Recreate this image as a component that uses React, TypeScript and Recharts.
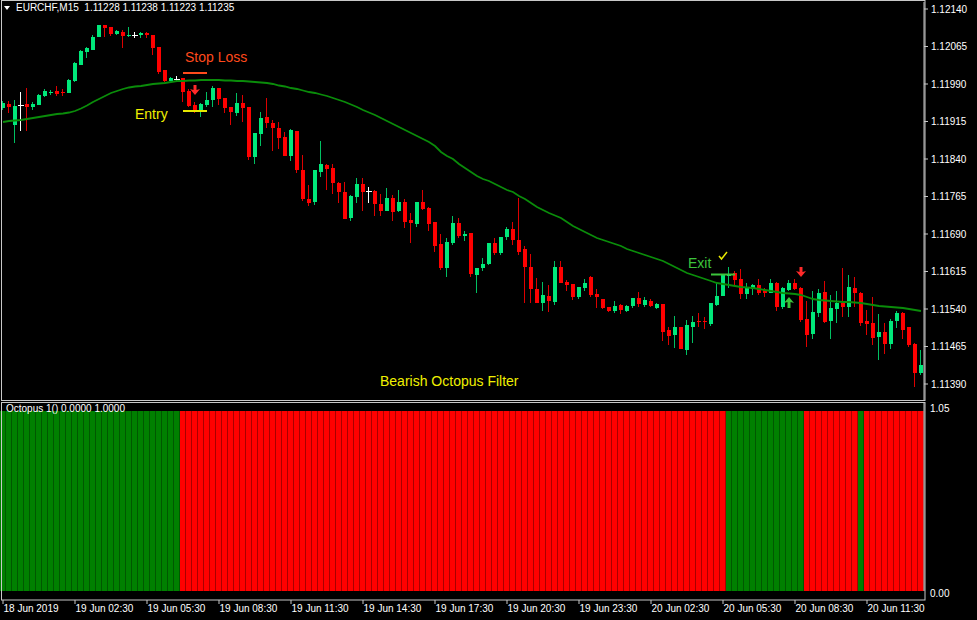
import React from "react";
import { ComposedChart, Bar, Line, XAxis, YAxis, ReferenceLine, ReferenceDot } from "recharts";

// EURCHF M15, 18 Jun 2019 23:30 -> 20 Jun 2019 13:45
const opens = [
  1.11942, 1.1195, 1.11908, 1.11948, 1.1195, 1.11944, 1.11948, 1.11966, 1.11972, 1.11976,
  1.11974, 1.11972, 1.11996, 1.12028, 1.12054, 1.12058, 1.12084, 1.12108, 1.12104, 1.1209,
  1.12094, 1.12086, 1.12088, 1.12088, 1.12092, 1.12088, 1.12064, 1.12018, 1.11996, 1.12,
  1.12002, 1.11976, 1.11948, 1.11934, 1.11948, 1.11958, 1.11982, 1.11962, 1.11944, 1.11932,
  1.11952, 1.11944, 1.11844, 1.1189, 1.11924, 1.11912, 1.11902, 1.11884, 1.11846, 1.11896,
  1.11818, 1.1176, 1.11754, 1.11814, 1.11828, 1.11822, 1.11792, 1.11774, 1.11722, 1.11764,
  1.1179, 1.11776, 1.11776, 1.1175, 1.11736, 1.11762, 1.11736, 1.11754, 1.11718, 1.1171,
  1.11754, 1.11742, 1.11714, 1.1167, 1.11622, 1.11672, 1.11712, 1.11686, 1.11692, 1.11608,
  1.11622, 1.1163, 1.11672, 1.11652, 1.11684, 1.117, 1.11678, 1.1166, 1.11624, 1.1158,
  1.11552, 1.11566, 1.11554, 1.11624, 1.11594, 1.1159, 1.11564, 1.11582, 1.11604, 1.1157,
  1.1156, 1.11544, 1.11536, 1.11548, 1.11536, 1.11546, 1.11562, 1.11548, 1.11556, 1.11542,
  1.1155, 1.11498, 1.11488, 1.11504, 1.11458, 1.11504, 1.11516, 1.11516, 1.1151, 1.11548,
  1.11566, 1.11606, 1.11612, 1.116, 1.1157, 1.1158, 1.11588, 1.11578, 1.11572, 1.11592,
  1.11544, 1.11578, 1.11592, 1.11582, 1.1152, 1.1149, 1.11532, 1.11574, 1.11516, 1.1154,
  1.11552, 1.11544, 1.11582, 1.11572, 1.11516, 1.11512, 1.11484, 1.11494, 1.1147, 1.11516,
  1.11532, 1.11504, 1.1147, 1.11412,
];

const highs = [
  1.11956, 1.11956, 1.11958, 1.11974, 1.11982, 1.11954, 1.1197, 1.1198, 1.11978, 1.11986,
  1.1198, 1.12, 1.12034, 1.12058, 1.12064, 1.12088, 1.12108, 1.12108, 1.12104, 1.12098,
  1.12098, 1.12104, 1.12094, 1.12094, 1.12094, 1.12088, 1.12064, 1.12018, 1.12004, 1.12006,
  1.12002, 1.1198, 1.11954, 1.11952, 1.11974, 1.11986, 1.11982, 1.11962, 1.11944, 1.11972,
  1.11968, 1.11944, 1.11892, 1.11934, 1.11962, 1.11918, 1.11914, 1.11894, 1.119, 1.11896,
  1.11848, 1.11788, 1.11818, 1.11876, 1.1183, 1.1183, 1.11794, 1.11794, 1.11768, 1.11802,
  1.11802, 1.11784, 1.11778, 1.1177, 1.11782, 1.11768, 1.11778, 1.1176, 1.11732, 1.11754,
  1.11778, 1.11744, 1.11714, 1.1169, 1.11682, 1.11726, 1.11722, 1.11696, 1.11692, 1.11622,
  1.11642, 1.11672, 1.11682, 1.11684, 1.11704, 1.11714, 1.11762, 1.11666, 1.1165, 1.11602,
  1.11594, 1.11588, 1.11636, 1.11636, 1.11598, 1.1159, 1.11584, 1.116, 1.11606, 1.1158,
  1.1156, 1.11544, 1.11556, 1.1155, 1.11548, 1.11562, 1.11574, 1.11564, 1.1156, 1.11552,
  1.1155, 1.11504, 1.11526, 1.11504, 1.11518, 1.11526, 1.11532, 1.11524, 1.11552, 1.11592,
  1.1161, 1.11624, 1.11616, 1.1162, 1.11592, 1.1159, 1.116, 1.11582, 1.116, 1.11594,
  1.11584, 1.11598, 1.116, 1.11584, 1.11556, 1.11576, 1.1158, 1.11596, 1.11568, 1.11576,
  1.11622, 1.11608, 1.11604, 1.11574, 1.11538, 1.11564, 1.1153, 1.11512, 1.1152, 1.11536,
  1.11534, 1.11504, 1.11472, 1.11458,
];

const lows = [
  1.11938, 1.11932, 1.11872, 1.11896, 1.11896, 1.11938, 1.11948, 1.11964, 1.11968, 1.11966,
  1.11966, 1.11972, 1.11994, 1.12028, 1.12042, 1.12058, 1.12084, 1.12084, 1.12086, 1.12088,
  1.12062, 1.12084, 1.12082, 1.12082, 1.12082, 1.12048, 1.1201, 1.11994, 1.11996, 1.11994,
  1.11954, 1.11944, 1.11932, 1.11924, 1.11944, 1.11944, 1.11948, 1.11932, 1.11908, 1.11926,
  1.11914, 1.11838, 1.1183, 1.11866, 1.11902, 1.11856, 1.1186, 1.11846, 1.11836, 1.11812,
  1.11756, 1.11746, 1.11748, 1.11804, 1.11778, 1.1177, 1.11752, 1.1172, 1.11716, 1.11752,
  1.11736, 1.11752, 1.11726, 1.11726, 1.11736, 1.11716, 1.11734, 1.11702, 1.11672, 1.11704,
  1.11738, 1.11696, 1.11654, 1.11618, 1.11604, 1.11668, 1.11682, 1.11676, 1.11604, 1.11572,
  1.11616, 1.11628, 1.11648, 1.11648, 1.11678, 1.11668, 1.11648, 1.11552, 1.11552, 1.11552,
  1.11536, 1.11534, 1.11548, 1.11592, 1.11576, 1.11558, 1.1156, 1.11576, 1.11564, 1.11542,
  1.1154, 1.11534, 1.11532, 1.1153, 1.11534, 1.11542, 1.11544, 1.11544, 1.11544, 1.1154,
  1.11476, 1.11468, 1.11462, 1.1146, 1.11448, 1.11472, 1.11504, 1.115, 1.11506, 1.11546,
  1.11566, 1.11582, 1.11588, 1.1156, 1.1156, 1.11568, 1.11568, 1.11564, 1.11572, 1.11536,
  1.1154, 1.11576, 1.11578, 1.11514, 1.11464, 1.1148, 1.11524, 1.11512, 1.1148, 1.11512,
  1.11524, 1.11524, 1.11544, 1.11506, 1.11488, 1.11468, 1.11438, 1.1145, 1.1146, 1.11502,
  1.1148, 1.11464, 1.11384, 1.11408,
];

const closes = [
  1.11952, 1.11944, 1.11946, 1.11948, 1.11944, 1.1195, 1.11968, 1.11976, 1.11974, 1.1197,
  1.11972, 1.11998, 1.12032, 1.12056, 1.12062, 1.12084, 1.12108, 1.12102, 1.1209, 1.12096,
  1.12086, 1.12088, 1.12088, 1.12092, 1.12088, 1.12062, 1.12014, 1.11996, 1.12002, 1.12,
  1.11974, 1.11946, 1.11936, 1.1195, 1.11958, 1.11982, 1.1196, 1.11942, 1.11934, 1.11952,
  1.11942, 1.11844, 1.11892, 1.11922, 1.11912, 1.11902, 1.11882, 1.11846, 1.11898, 1.11818,
  1.1176, 1.11752, 1.11818, 1.1183, 1.1182, 1.11792, 1.11774, 1.1172, 1.11766, 1.1179,
  1.11774, 1.11776, 1.1175, 1.11736, 1.11762, 1.11734, 1.11754, 1.11714, 1.11712, 1.11754,
  1.1174, 1.1171, 1.11666, 1.11622, 1.11674, 1.11712, 1.11686, 1.1169, 1.1161, 1.11622,
  1.1163, 1.11672, 1.11652, 1.11684, 1.117, 1.11678, 1.11654, 1.11624, 1.1158, 1.11552,
  1.11568, 1.11556, 1.11624, 1.11592, 1.11588, 1.11564, 1.11584, 1.11592, 1.11568, 1.11564,
  1.11542, 1.11536, 1.11546, 1.11538, 1.11546, 1.11562, 1.1155, 1.11558, 1.11546, 1.1155,
  1.11494, 1.11486, 1.11504, 1.1146, 1.11508, 1.11514, 1.11514, 1.11514, 1.11552, 1.11566,
  1.11608, 1.1161, 1.11598, 1.1157, 1.11582, 1.11588, 1.11572, 1.11572, 1.11592, 1.11544,
  1.11582, 1.11592, 1.1158, 1.11518, 1.11488, 1.11534, 1.11572, 1.11514, 1.11542, 1.11552,
  1.11544, 1.11584, 1.11572, 1.11512, 1.1151, 1.11482, 1.11494, 1.1147, 1.11516, 1.11532,
  1.11498, 1.11468, 1.11412, 1.11428,
];

// moving average (green line)
const movingAvg = [
  1.11914, 1.11916, 1.11917, 1.11918, 1.1192, 1.11922, 1.11924, 1.11926, 1.11928, 1.1193,
  1.11931, 1.11933, 1.11936, 1.11941, 1.11947, 1.11954, 1.1196, 1.11966, 1.11972, 1.11976,
  1.1198, 1.11983, 1.11985, 1.11986, 1.11988, 1.1199, 1.11991, 1.11992, 1.11994, 1.11996,
  1.11996, 1.11997, 1.11997, 1.11998, 1.11998, 1.11998, 1.11998, 1.11997, 1.11997, 1.11996,
  1.11996, 1.11995, 1.11994, 1.11993, 1.11992, 1.1199, 1.11987, 1.11985, 1.11982, 1.1198,
  1.11977, 1.11974, 1.11972, 1.11969, 1.11966, 1.11962, 1.11958, 1.11954, 1.11949, 1.11944,
  1.11938, 1.11933, 1.11928, 1.11922, 1.11916, 1.1191, 1.11904, 1.11898, 1.11892, 1.11886,
  1.1188, 1.11874, 1.11866, 1.11854, 1.11846, 1.1184, 1.1183, 1.11822, 1.11814, 1.11806,
  1.118, 1.11796, 1.1179, 1.11784, 1.11778, 1.11774, 1.11766, 1.1176, 1.11752, 1.11744,
  1.11738, 1.11732, 1.11727, 1.11722, 1.11714, 1.11706, 1.117, 1.11694, 1.11688, 1.11682,
  1.11678, 1.11674, 1.1167, 1.11666, 1.1166, 1.11656, 1.11652, 1.11648, 1.11644, 1.1164,
  1.11636, 1.1163, 1.11624, 1.11618, 1.11612, 1.11608, 1.11604, 1.116, 1.11596, 1.11592,
  1.1159, 1.11588, 1.11586, 1.11584, 1.11583, 1.11582, 1.1158, 1.11578, 1.11576, 1.11574,
  1.11572, 1.11571, 1.1157, 1.11568, 1.11564, 1.1156, 1.11558, 1.11557, 1.11556, 1.11555,
  1.11554, 1.11554, 1.11553, 1.11552, 1.1155, 1.11548, 1.11546, 1.11545, 1.11544, 1.11543,
  1.11542, 1.1154, 1.11538, 1.11536,
];

// Octopus filter buffers (green = bullish, red = bearish)
const octoBull = [
  1, 1, 1, 1, 1, 1, 1, 1, 1, 1, 1, 1, 1, 1, 1, 1, 1, 1, 1, 1, 1, 1, 1, 1, 1, 1, 1, 1, 1, 1,
  0, 0, 0, 0, 0, 0, 0, 0, 0, 0, 0, 0, 0, 0, 0, 0, 0, 0, 0, 0, 0, 0, 0, 0, 0, 0, 0, 0, 0, 0,
  0, 0, 0, 0, 0, 0, 0, 0, 0, 0, 0, 0, 0, 0, 0, 0, 0, 0, 0, 0, 0, 0, 0, 0, 0, 0, 0, 0, 0, 0,
  0, 0, 0, 0, 0, 0, 0, 0, 0, 0, 0, 0, 0, 0, 0, 0, 0, 0, 0, 0, 0, 0, 0, 0, 0, 0, 0, 0, 0, 0,
  0, 1, 1, 1, 1, 1, 1, 1, 1, 1, 1, 1, 1, 1, 0, 0, 0, 0, 0, 0, 0, 0, 0, 1, 0, 0, 0, 0, 0, 0,
  0, 0, 0, 0,
];
const octoBear = [
  0, 0, 0, 0, 0, 0, 0, 0, 0, 0, 0, 0, 0, 0, 0, 0, 0, 0, 0, 0, 0, 0, 0, 0, 0, 0, 0, 0, 0, 0,
  1, 1, 1, 1, 1, 1, 1, 1, 1, 1, 1, 1, 1, 1, 1, 1, 1, 1, 1, 1, 1, 1, 1, 1, 1, 1, 1, 1, 1, 1,
  1, 1, 1, 1, 1, 1, 1, 1, 1, 1, 1, 1, 1, 1, 1, 1, 1, 1, 1, 1, 1, 1, 1, 1, 1, 1, 1, 1, 1, 1,
  1, 1, 1, 1, 1, 1, 1, 1, 1, 1, 1, 1, 1, 1, 1, 1, 1, 1, 1, 1, 1, 1, 1, 1, 1, 1, 1, 1, 1, 1,
  1, 0, 0, 0, 0, 0, 0, 0, 0, 0, 0, 0, 0, 0, 1, 1, 1, 1, 1, 1, 1, 1, 1, 0, 1, 1, 1, 1, 1, 1,
  1, 1, 1, 1,
];

const timeLabels = [
  "18 Jun 2019", "19 Jun 02:30", "19 Jun 05:30", "19 Jun 08:30", "19 Jun 11:30",
  "19 Jun 14:30", "19 Jun 17:30", "19 Jun 20:30", "19 Jun 23:30", "20 Jun 02:30",
  "20 Jun 05:30", "20 Jun 08:30", "20 Jun 11:30",
];
const labelBars = [0, 12, 24, 36, 48, 60, 72, 84, 96, 108, 120, 132, 144];

const priceTicks = [
  1.1139, 1.11465, 1.1154, 1.11615, 1.1169, 1.11765, 1.1184, 1.11915, 1.1199, 1.12065, 1.1214,
];

const stopLoss = 1.12012;
const entry = 1.11936;
const exitPrice = 1.11609;

const FONT = "'Liberation Sans', Arial, sans-serif";
const UP = "#00e87a";
const DOWN = "#ff0000";
const AXIS = "#c8c8c8";

const rows = opens.map((o, i) => ({
  i,
  open: o,
  high: highs[i],
  low: lows[i],
  close: closes[i],
  range: [lows[i], highs[i]],
  ma: movingAvg[i],
  bull: octoBull[i],
  bear: octoBear[i],
}));

const Candle = (props: any) => {
  const { x, y, width, height, payload } = props;
  const { open, close, high, low } = payload;
  const top = Math.min(y, y + height);
  const h = Math.abs(height);
  const py = (p: number) => (high === low ? top : top + ((high - p) / (high - low)) * h);
  const cx = Math.round(x + width / 2) - 0.5;
  const doji = open === close;
  const up = close > open;
  const body = doji ? "#ffffff" : up ? UP : DOWN;
  const wick = doji ? "#ffffff" : up ? "#00c062" : "#dd0000";
  const bTop = py(Math.max(open, close));
  const bBot = py(Math.min(open, close));
  const bx = Math.round(x);
  return (
    <g>
      <line x1={cx} x2={cx} y1={top} y2={top + h} stroke={wick} strokeWidth={1} />
      {doji ? (
        <line x1={bx - 1} x2={bx + width + 1} y1={Math.round(bTop) + 0.5} y2={Math.round(bTop) + 0.5} stroke={body} />
      ) : (
        <rect x={bx} y={bTop} width={width} height={Math.max(1, bBot - bTop)} fill={body} />
      )}
    </g>
  );
};

const histShape = (fill: string, edge: string) => (props: any) => {
  const { x, y, width, height } = props;
  if (!height || height <= 0) return <g />;
  return (
    <g>
      <rect x={x} y={y} width={width} height={height} fill={fill} />
      <rect x={x + width - 1} y={y} width={1} height={height} fill={edge} />
    </g>
  );
};

const DownArrow = (color: string) => (props: any) => {
  const { cx, cy } = props;
  return (
    <path
      d={`M${cx - 1.5},${cy - 5} L${cx + 1.5},${cy - 5} L${cx + 1.5},${cy} L${cx + 5},${cy - 1} L${cx},${cy + 5} L${cx - 5},${cy - 1} L${cx - 1.5},${cy} Z`}
      fill={color}
    />
  );
};

const UpArrow = (color: string) => (props: any) => {
  const { cx, cy } = props;
  return (
    <path
      d={`M${cx - 1.5},${cy + 6} L${cx + 1.5},${cy + 6} L${cx + 1.5},${cy} L${cx + 5},${cy + 1} L${cx},${cy - 5} L${cx - 5},${cy + 1} L${cx - 1.5},${cy} Z`}
      fill={color}
    />
  );
};

const Check = (props: any) => {
  const { cx, cy } = props;
  return (
    <path d={`M${cx - 4},${cy} L${cx - 1.5},${cy + 3} L${cx + 4},${cy - 4}`} stroke="#e8e800" strokeWidth={1.5} fill="none" />
  );
};

const TimeTick = (props: any) => {
  const { x, y, payload } = props;
  const k = labelBars.indexOf(payload.value);
  return (
    <g>
      <line x1={x} x2={x} y1={y + 9} y2={y + 13} stroke={AXIS} />
      <text x={x + 0.5} y={y + 21} fill="#ffffff" fontSize={10} fontFamily={FONT}>
        {k >= 0 ? timeLabels[k] : ""}
      </text>
    </g>
  );
};

const OctoTick = (props: any) => {
  const { x, y, payload } = props;
  return (
    <text x={x} y={y + (payload.value > 0.5 ? 10 : 6)} fill="#ffffff" fontSize={10} fontFamily={FONT}>
      {payload.value.toFixed(2)}
    </text>
  );
};

const label = (text: string, left: number, top: number, color: string, size = 14) => (
  <div
    style={{
      position: "absolute",
      left,
      top,
      color,
      fontSize: size,
      fontFamily: FONT,
      lineHeight: `${size + 2}px`,
      whiteSpace: "pre",
      pointerEvents: "none",
    }}
  >
    {text}
  </div>
);

export default function App() {
  return (
    <div style={{ position: "absolute", left: 0, top: 0, width: 977, height: 620, background: "#000", overflow: "hidden" }}>
      <div style={{ position: "absolute", left: 0, top: 0 }}>
        <ComposedChart width={977} height={400} data={rows} margin={{ top: 2, right: 0, left: 0, bottom: 0 }}>
          <XAxis dataKey="i" hide />
          <YAxis
            orientation="right"
            width={53}
            type="number"
            domain={[1.11358, 1.12154]}
            allowDataOverflow
            ticks={priceTicks}
            interval={0}
            tickFormatter={(v: number) => v.toFixed(5)}
            tick={{ fill: "#ffffff", fontSize: 10, fontFamily: FONT }}
            tickSize={4}
            tickMargin={3}
            axisLine={{ stroke: AXIS }}
            tickLine={{ stroke: AXIS }}
          />
          <Line type="linear" dataKey="ma" stroke="#0a8c0a" strokeWidth={1.8} dot={false} isAnimationActive={false} />
          <Bar dataKey="range" barSize={4} shape={Candle} isAnimationActive={false} />
          <ReferenceLine segment={[{ x: 30, y: stopLoss }, { x: 34, y: stopLoss }]} stroke="#ff4a1c" strokeWidth={2} />
          <ReferenceLine segment={[{ x: 30, y: entry }, { x: 34, y: entry }]} stroke="#e8e800" strokeWidth={2} />
          <ReferenceLine segment={[{ x: 118, y: exitPrice }, { x: 122, y: exitPrice }]} stroke="#3cc43c" strokeWidth={2} />
          <ReferenceDot x={32} y={1.11978} r={5} shape={DownArrow("#ff2a2a")} />
          <ReferenceDot x={133} y={1.11614} r={5} shape={DownArrow("#ff2a2a")} />
          <ReferenceDot x={131} y={1.11554} r={5} shape={UpArrow("#3cc43c")} />
          <ReferenceDot x={120} y={1.11646} r={5} shape={Check} />
        </ComposedChart>
      </div>

      <div style={{ position: "absolute", left: 0, top: 402 }}>
        <ComposedChart width={977} height={218} data={rows} barCategoryGap={0} margin={{ top: 0, right: 0, left: 0, bottom: 0 }}>
          <XAxis
            dataKey="i"
            height={29}
            ticks={labelBars}
            interval={0}
            tick={TimeTick}
            tickSize={0}
            tickMargin={0}
            axisLine={false}
            tickLine={false}
          />
          <YAxis
            orientation="right"
            width={53}
            type="number"
            domain={[0, 1.05]}
            allowDataOverflow
            ticks={[0, 1.05]}
            interval={0}
            tick={OctoTick}
            tickSize={4}
            tickMargin={2}
            axisLine={{ stroke: AXIS }}
            tickLine={false}
          />
          <Bar dataKey="bull" stackId="octo" shape={histShape("#008000", "#005800")} isAnimationActive={false} />
          <Bar dataKey="bear" stackId="octo" shape={histShape("#ff0000", "#a80000")} isAnimationActive={false} />
        </ComposedChart>
      </div>

      <svg width={977} height={620} style={{ position: "absolute", left: 0, top: 0, pointerEvents: "none" }}>
        <rect x={1.5} y={0.5} width={923.5} height={400} fill="none" stroke={AXIS} />
        <rect x={1.5} y={402.5} width={923.5} height={197.5} fill="none" stroke={AXIS} />
        <path d="M4,6 L10,6 L7,10 Z" fill="#ffffff" />
      </svg>

      {label("EURCHF,M15  1.11228 1.11238 1.11223 1.11235", 16, 2, "#ffffff", 10)}
      {label("Octopus 1() 0.0000 1.0000", 6, 403, "#ffffff", 10)}
      {label("Stop Loss", 185, 49, "#ff4a1c")}
      {label("Entry", 135, 106, "#f0f000")}
      {label("Exit", 688, 255, "#3cc43c")}
      {label("Bearish Octopus Filter", 380, 373, "#f0f000")}
    </div>
  );
}
